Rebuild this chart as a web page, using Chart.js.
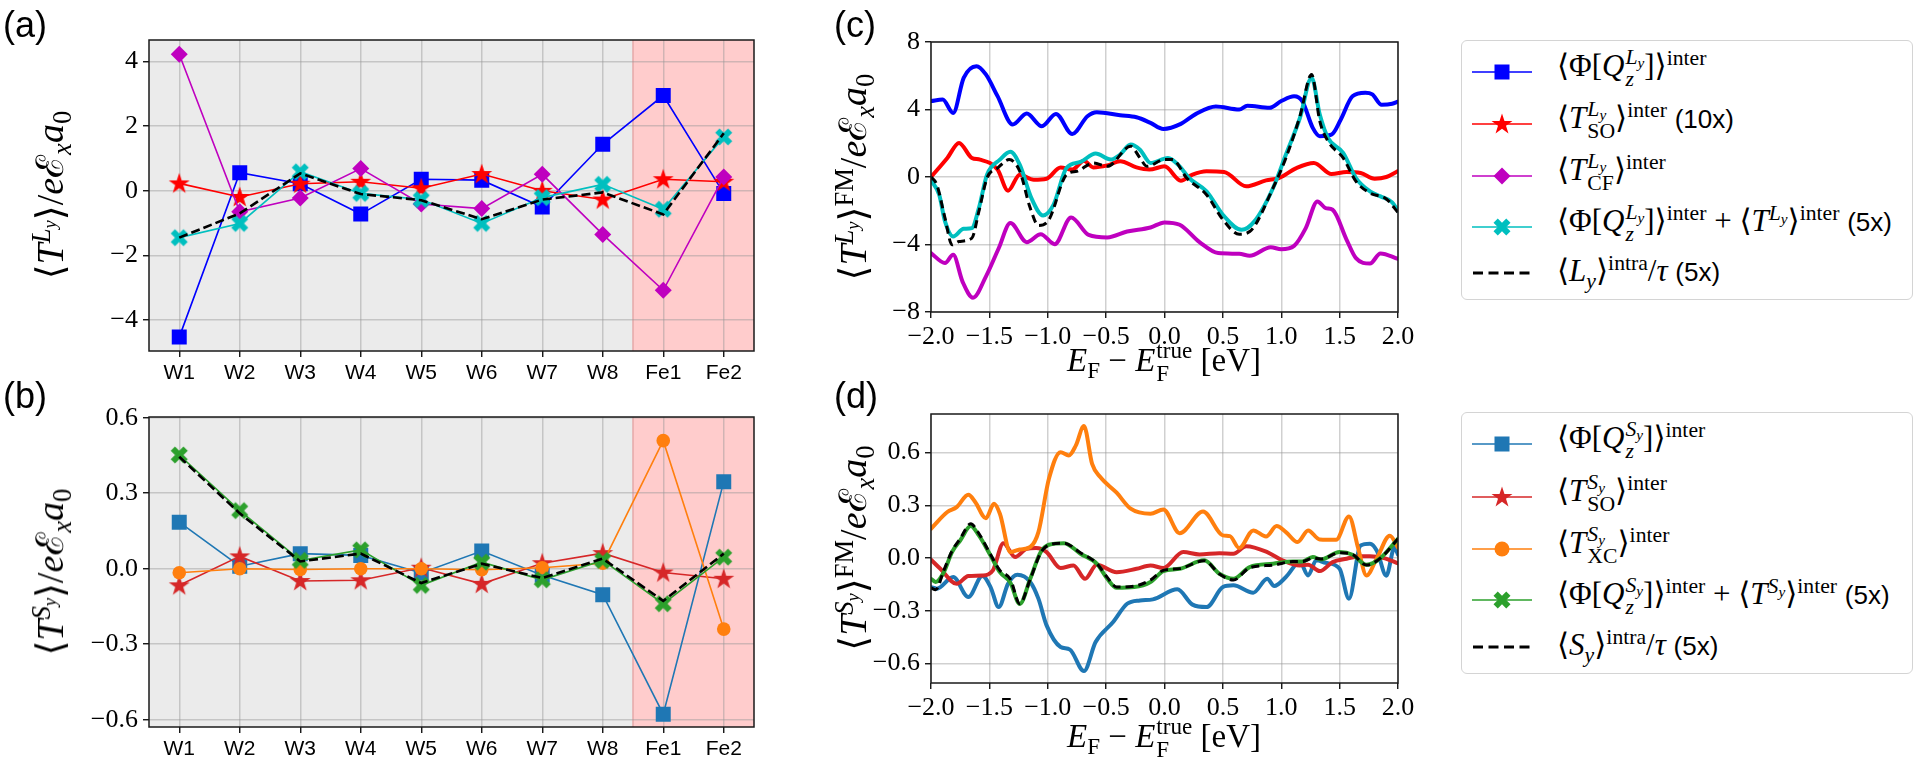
<!DOCTYPE html>
<html>
<head>
<meta charset="utf-8">
<title>Orbital and spin torques</title>
<script src="https://cdn.jsdelivr.net/npm/chart.js@4.4.1/dist/chart.umd.min.js"></script>
<style>
  html, body { margin: 0; padding: 0; background: #fff; }
  body { position: relative; width: 1920px; height: 765px; overflow: hidden; }
  canvas { position: absolute; }
  .txt { position: absolute; white-space: nowrap; color: #000; line-height: 1; }
  .panel { font-family: 'Liberation Sans', Arial, sans-serif; font-size: 36px; }
  .math { font-family: 'Liberation Serif', 'DejaVu Serif', serif; }
  .sans { font-family: 'Liberation Sans', Arial, sans-serif; font-size: 0.84em; }
  .rot { transform: translate(-50%, -50%) rotate(-90deg); }
  .ctr { transform: translate(-50%, -50%); }
  .sp { font-size: 0.7em; vertical-align: 0.5em; line-height: 0; }
  .sb { font-size: 0.7em; vertical-align: -0.3em; line-height: 0; }
  .st { display: inline-flex; flex-direction: column; font-size: 0.7em; line-height: 1; vertical-align: 0.55em; margin-left: 1px; }
  .legend { position: absolute; border: 1.5px solid #d4d4d4; border-radius: 6px; background: #fff; box-sizing: border-box; }
</style>
</head>
<body>
<canvas id="chA" width="780" height="390" style="left:0;top:0"></canvas>
<canvas id="chB" width="780" height="375" style="left:0;top:390px"></canvas>
<canvas id="chC" width="560" height="390" style="left:860px;top:0"></canvas>
<canvas id="chD" width="560" height="375" style="left:860px;top:390px"></canvas>
<div id="overlay"></div>

<script>
// ---------- data ----------
const sites = ['W1', 'W2', 'W3', 'W4', 'W5', 'W6', 'W7', 'W8', 'Fe1', 'Fe2'];

// (a) orbital channel, per site
const aPhiQ  = [-4.53, 0.56, 0.22, -0.72, 0.36, 0.33, -0.50, 1.44, 2.95, -0.08];
const aTso   = [0.23, -0.19, 0.22, 0.28, 0.08, 0.52, 0.00, -0.27, 0.36, 0.28];
const aTcf   = [4.23, -0.65, -0.22, 0.69, -0.41, -0.55, 0.51, -1.35, -3.08, 0.43];
const aSum   = [-1.45, -1.01, 0.59, -0.08, -0.27, -1.01, -0.21, 0.20, -0.57, 1.67];
const aIntra = [-1.45, -0.70, 0.54, -0.10, -0.29, -0.88, -0.27, -0.05, -0.73, 1.78];

// (b) spin channel, per site
const bPhiQ  = [0.185, 0.010, 0.060, 0.053, -0.017, 0.070, -0.026, -0.103, -0.578, 0.346];
const bTso   = [-0.066, 0.049, -0.049, -0.046, 0.004, -0.060, 0.022, 0.062, -0.015, -0.040];
const bTxc   = [-0.016, 0.000, -0.003, 0.000, 0.000, -0.004, 0.004, 0.022, 0.509, -0.240];
const bSum   = [0.452, 0.231, 0.033, 0.075, -0.066, 0.026, -0.044, 0.033, -0.139, 0.046];
const bIntra = [0.445, 0.220, 0.029, 0.060, -0.057, 0.020, -0.037, 0.040, -0.128, 0.060];

// (c) orbital channel vs Fermi energy (eV)
const cPhiQE = [-2, -1.9, -1.81, -1.72, -1.61, -1.53, -1.43, -1.3, -1.18, -1.05, -0.93, -0.79, -0.66, -0.58, -0.38, -0.24, -0.12, -0.01, 0.14, 0.27, 0.44, 0.64, 0.71, 0.9, 1.0, 1.11, 1.18, 1.27, 1.33, 1.43, 1.51, 1.61, 1.72, 1.78, 1.86, 1.95, 2.0];
const cPhiQV = [4.5, 4.59, 3.8, 5.88, 6.57, 6.08, 4.79, 3.11, 3.76, 3.01, 3.74, 2.55, 3.6, 3.84, 3.66, 3.54, 3.21, 2.85, 3.15, 3.74, 4.18, 4.0, 4.22, 4.1, 4.5, 4.79, 4.5, 2.91, 2.42, 2.51, 3.41, 4.79, 5.0, 4.9, 4.28, 4.34, 4.47];
const cTsoE = [-2, -1.86, -1.76, -1.65, -1.58, -1.43, -1.34, -1.24, -1.12, -1.01, -0.89, -0.79, -0.69, -0.61, -0.49, -0.38, -0.24, -0.13, 0, 0.14, 0.24, 0.36, 0.51, 0.7, 0.87, 0.98, 1.13, 1.28, 1.43, 1.56, 1.68, 1.8, 1.9, 2.0];
const cTsoV = [0, 1.13, 2.02, 1.13, 1.03, 0.44, -0.81, 0.14, -0.16, -0.1, 0.57, 0.44, 0.97, 0.57, 0.69, 0.93, 0.57, 0.44, 0.63, -0.22, 0.14, 0.34, 0.3, -0.55, -0.2, -0.06, 0.53, 0.83, 0.18, 0.3, 0.24, -0.1, 0.0, 0.35];
const cTcfE = [-2, -1.88, -1.81, -1.73, -1.64, -1.53, -1.42, -1.32, -1.18, -1.06, -0.94, -0.8, -0.65, -0.49, -0.32, -0.12, 0, 0.13, 0.3, 0.46, 0.64, 0.73, 0.91, 1.0, 1.11, 1.21, 1.31, 1.38, 1.44, 1.56, 1.64, 1.76, 1.85, 2.0];
const cTcfV = [-4.51, -5.1, -4.61, -6.2, -7.15, -5.9, -4.22, -2.73, -3.86, -3.39, -3.98, -2.4, -3.43, -3.58, -3.23, -2.99, -2.69, -2.83, -3.86, -4.51, -4.55, -4.67, -4.16, -4.28, -4.08, -3.03, -1.45, -1.84, -1.94, -3.72, -4.81, -5.13, -4.53, -4.85];
const cSumE = [-2, -1.93, -1.88, -1.81, -1.72, -1.65, -1.59, -1.52, -1.41, -1.32, -1.24, -1.14, -1.04, -0.95, -0.84, -0.72, -0.59, -0.46, -0.38, -0.29, -0.21, -0.12, 0.03, 0.13, 0.21, 0.36, 0.5, 0.66, 0.77, 0.93, 1.04, 1.16, 1.26, 1.33, 1.4, 1.53, 1.64, 1.76, 1.85, 1.95, 2.0];
const cSumV = [-0.2, -1.05, -2.63, -3.52, -3.07, -3.03, -1.84, 0.14, 1.03, 1.49, 0.73, -1.25, -2.28, -1.64, 0.53, 0.89, 1.39, 1.03, 1.33, 1.92, 1.62, 0.83, 1.13, 0.63, -0.06, -0.85, -2.24, -3.13, -2.63, -0.65, 1.33, 3.5, 5.88, 3.7, 2.32, 1.43, -0.06, -0.85, -1.15, -1.5, -2.0];
const cIntraE = [-2, -1.95, -1.88, -1.82, -1.76, -1.65, -1.59, -1.52, -1.43, -1.33, -1.24, -1.15, -1.08, -0.99, -0.84, -0.75, -0.61, -0.49, -0.29, -0.21, -0.15, 0, 0.07, 0.19, 0.36, 0.5, 0.64, 0.73, 0.93, 1.04, 1.16, 1.26, 1.33, 1.4, 1.53, 1.64, 1.76, 1.9, 2.0];
const cIntraV = [0, -0.46, -2.44, -4.02, -3.82, -3.62, -2.04, -0.06, 0.53, 1.03, 0.34, -1.84, -2.87, -2.53, 0.14, 0.34, 0.83, 0.63, 1.82, 1.13, 0.63, 1.03, 1.03, -0.06, -1.05, -2.53, -3.39, -3.23, -0.65, 1.13, 3.6, 6.08, 3.31, 2.12, 1.13, -0.26, -0.95, -1.3, -2.1];

// (d) spin channel vs Fermi energy (eV)
const dPhiQE = [-2, -1.95, -1.81, -1.68, -1.56, -1.49, -1.42, -1.34, -1.26, -1.15, -1.08, -1.01, -0.89, -0.81, -0.69, -0.59, -0.44, -0.32, -0.21, -0.1, 0.11, 0.24, 0.36, 0.5, 0.59, 0.76, 0.88, 0.94, 1.04, 1.16, 1.23, 1.3, 1.38, 1.5, 1.58, 1.68, 1.76, 1.82, 1.9, 1.97, 2.0];
const dPhiQV = [-0.165, -0.174, -0.108, -0.222, -0.102, -0.165, -0.279, -0.146, -0.095, -0.136, -0.231, -0.383, -0.506, -0.521, -0.643, -0.478, -0.364, -0.26, -0.241, -0.235, -0.178, -0.265, -0.279, -0.165, -0.155, -0.197, -0.118, -0.159, -0.108, -0.023, -0.099, -0.013, -0.027, -0.061, -0.231, 0.072, 0.082, 0.04, -0.1, 0.06, 0.02];
const dTsoE = [-2, -1.92, -1.78, -1.68, -1.56, -1.47, -1.38, -1.28, -1.18, -1.1, -1.01, -0.89, -0.78, -0.68, -0.58, -0.41, -0.24, -0.12, -0.01, 0.16, 0.3, 0.47, 0.59, 0.7, 0.88, 1.01, 1.16, 1.23, 1.33, 1.44, 1.56, 1.67, 1.76, 1.88, 2.0];
const dTsoV = [-0.009, -0.061, -0.146, -0.102, -0.099, -0.07, 0.085, 0.006, 0.053, 0.057, 0.034, -0.057, -0.042, -0.118, -0.038, -0.08, -0.061, -0.042, -0.057, 0.034, 0.021, 0.028, 0.025, 0.068, 0.034, -0.013, -0.042, -0.038, -0.074, -0.023, -0.004, 0.011, 0.011, 0.0, -0.03];
const dTxcE = [-2, -1.86, -1.78, -1.68, -1.62, -1.53, -1.46, -1.41, -1.32, -1.24, -1.15, -1.08, -0.99, -0.89, -0.82, -0.76, -0.69, -0.62, -0.55, -0.41, -0.29, -0.12, -0.01, 0.13, 0.33, 0.5, 0.56, 0.64, 0.76, 0.87, 0.96, 1.04, 1.14, 1.23, 1.33, 1.47, 1.58, 1.66, 1.73, 1.82, 1.93, 2.0];
const dTxcV = [0.167, 0.262, 0.29, 0.36, 0.318, 0.227, 0.309, 0.252, 0.034, 0.049, 0.063, 0.148, 0.451, 0.603, 0.584, 0.64, 0.751, 0.536, 0.461, 0.372, 0.281, 0.252, 0.277, 0.142, 0.265, 0.129, 0.125, 0.057, 0.157, 0.123, 0.182, 0.148, 0.091, 0.157, 0.106, 0.104, 0.237, 0.053, -0.099, 0.0, 0.127, 0.06];
const dSumE = [-2, -1.96, -1.89, -1.82, -1.75, -1.66, -1.59, -1.49, -1.41, -1.32, -1.24, -1.15, -1.06, -0.99, -0.86, -0.72, -0.58, -0.49, -0.41, -0.26, -0.12, -0.01, 0.13, 0.34, 0.47, 0.59, 0.73, 0.93, 1.1, 1.18, 1.27, 1.34, 1.5, 1.61, 1.73, 1.85, 2.0];
const dSumV = [-0.118, -0.136, -0.08, 0.034, 0.1, 0.182, 0.129, 0.015, -0.08, -0.14, -0.262, -0.118, 0.034, 0.076, 0.085, 0.025, -0.032, -0.118, -0.169, -0.165, -0.136, -0.074, -0.061, -0.013, -0.089, -0.118, -0.051, -0.032, -0.019, -0.019, 0.006, -0.008, 0.034, 0.019, -0.038, 0.0, 0.11];
const dIntraE = dSumE;
const dIntraV = [-0.17, -0.18, -0.07, 0.04, 0.11, 0.195, 0.14, 0.02, -0.07, -0.12, -0.26, -0.12, 0.03, 0.075, 0.085, 0.03, -0.03, -0.11, -0.165, -0.16, -0.125, -0.07, -0.06, -0.015, -0.09, -0.125, -0.055, -0.04, -0.02, -0.02, 0.0, -0.005, 0.03, 0.02, -0.04, 0.0, 0.11];

// tick labels
const aTicks = [-4, -2, 0, 2, 4];
const bTicks = [-0.6, -0.3, 0, 0.3, 0.6];
const cTicks = [-8, -4, 0, 4, 8];
const dTicks = [-0.6, -0.3, 0, 0.3, 0.6];
const eTicks = [-2, -1.5, -1, -0.5, 0, 0.5, 1, 1.5, 2];

// ---------- markers ----------
const XPATH = [[-0.25, -0.5], [0, -0.25], [0.25, -0.5], [0.5, -0.25], [0.25, 0], [0.5, 0.25],
               [0.25, 0.5], [0, 0.25], [-0.25, 0.5], [-0.5, 0.25], [-0.25, 0], [-0.5, -0.25]];

function starPts(r, cx, cy) {
  const pts = [];
  for (let k = 0; k < 10; k++) {
    const rad = k % 2 ? r * 0.382 : r;
    const ang = -Math.PI / 2 + k * Math.PI / 5;
    pts.push([cx + rad * Math.cos(ang), cy + rad * Math.sin(ang)]);
  }
  return pts;
}
function xPts(s, cx, cy) { return XPATH.map(([x, y]) => [cx + x * s, cy + y * s]); }

function polyImg(pts, size, color) {
  const c = document.createElement('canvas');
  c.width = c.height = size;
  const g = c.getContext('2d');
  g.beginPath();
  pts.forEach(([x, y], i) => i ? g.lineTo(x, y) : g.moveTo(x, y));
  g.closePath();
  g.fillStyle = color;
  g.fill();
  return c;
}
const starImg = (color) => polyImg(starPts(11, 12, 12.5), 24, color);
const crossImg = (color) => polyImg(xPts(17, 10, 10), 20, color);

// ---------- plugin: shaded background + frame ----------
const panelFrame = {
  id: 'panelFrame',
  beforeDraw(chart, args, opts) {
    if (!opts.shade) return;
    const { ctx, chartArea: a, scales } = chart;
    const xs = scales.x;
    const split = (xs.getPixelForValue(opts.split - 1) + xs.getPixelForValue(opts.split)) / 2;
    ctx.save();
    ctx.fillStyle = '#ebebeb';
    ctx.fillRect(a.left, a.top, split - a.left, a.bottom - a.top);
    ctx.fillStyle = '#ffcccc';
    ctx.fillRect(split, a.top, a.right - split, a.bottom - a.top);
    ctx.strokeStyle = '#e6a9a9';
    ctx.lineWidth = 1.5;
    ctx.beginPath(); ctx.moveTo(split, a.top); ctx.lineTo(split, a.bottom); ctx.stroke();
    ctx.restore();
  },
  afterDraw(chart) {
    const { ctx, chartArea: a } = chart;
    ctx.save();
    ctx.strokeStyle = '#1a1a1a';
    ctx.lineWidth = 1.5;
    ctx.strokeRect(a.left, a.top, a.right - a.left, a.bottom - a.top);
    ctx.restore();
  }
};

const GRID = 'rgba(150,150,150,0.45)';
const fmt = (v, d) => (v < 0 ? '\u2212' : '') + Math.abs(v).toFixed(d);

function yAxis(ticks, min, max, dec, width) {
  return {
    type: 'linear', min, max,
    afterBuildTicks: (s) => { s.ticks = ticks.map(v => ({ value: v })); },
    afterFit: (s) => { s.width = width; },
    grid: { color: GRID, lineWidth: 1.5, tickLength: 6, tickColor: '#000', tickWidth: 1.3 },
    border: { display: false },
    ticks: { color: '#000', padding: 5, font: { family: 'Liberation Serif', size: 26 }, callback: (v) => fmt(v, dec) }
  };
}

function siteChart(id, padTop, xH, yT, yMin, yMax, dec, sets) {
  return new Chart(document.getElementById(id), {
    type: 'line',
    data: {
      labels: sites,
      datasets: sets.map((s, i) => ({
        label: s.name, data: s.data,
        borderColor: s.color, backgroundColor: s.color,
        borderWidth: s.dash ? 2.6 : 1.6, borderDash: s.dash || [],
        pointStyle: s.marker || false, pointRadius: s.marker ? s.r : 0,
        pointBorderWidth: 0, tension: 0, order: sets.length - i
      }))
    },
    options: {
      responsive: false, animation: false, devicePixelRatio: 1, events: [],
      layout: { padding: { top: padTop, right: 26, left: 0, bottom: 0 } },
      plugins: { legend: { display: false }, tooltip: { enabled: false },
                 panelFrame: { shade: true, split: sites.findIndex(s => s.startsWith('Fe')) } },
      scales: {
        x: {
          type: 'category', offset: true,
          afterFit: (s) => { s.height = xH; },
          grid: { color: GRID, lineWidth: 1.5, tickLength: 6, tickColor: '#000', tickWidth: 1.3 },
          border: { display: false },
          ticks: { color: '#000', padding: 4, autoSkip: false, maxRotation: 0,
                   font: { family: 'Liberation Sans', size: 21 } }
        },
        y: yAxis(yT, yMin, yMax, dec, 149)
      }
    },
    plugins: [panelFrame]
  });
}

function energyChart(id, padTop, xH, yT, yMin, yMax, dec, sets) {
  return new Chart(document.getElementById(id), {
    type: 'line',
    data: {
      datasets: sets.map((s, i) => ({
        label: s.name, data: s.e.map((x, k) => ({ x, y: s.v[k] })),
        borderColor: s.color, borderWidth: s.dash ? 3 : 4, borderDash: s.dash || [],
        borderCapStyle: s.dash ? 'butt' : 'round', borderJoinStyle: 'round',
        pointRadius: 0, cubicInterpolationMode: 'monotone', order: sets.length - i
      }))
    },
    options: {
      responsive: false, animation: false, devicePixelRatio: 1, events: [],
      layout: { padding: { top: padTop, right: 22, left: 0, bottom: 0 } },
      plugins: { legend: { display: false }, tooltip: { enabled: false }, panelFrame: { shade: false } },
      scales: {
        x: {
          type: 'linear', min: -2, max: 2,
          afterBuildTicks: (s) => { s.ticks = eTicks.map(v => ({ value: v })); },
          afterFit: (s) => { s.height = xH; },
          grid: { color: GRID, lineWidth: 1.5, tickLength: 6, tickColor: '#000', tickWidth: 1.3 },
          border: { display: false },
          ticks: { color: '#000', padding: 4, maxRotation: 0,
                   font: { family: 'Liberation Serif', size: 26 }, callback: (v) => fmt(v, 1) }
        },
        y: yAxis(yT, yMin, yMax, dec, 71)
      }
    },
    plugins: [panelFrame]
  });
}

// ---------- charts ----------
siteChart('chA', 40, 39, aTicks, -4.96, 4.67, 0, [
  { name: 'PhiQ', data: aPhiQ, color: '#0000ff', marker: 'rect', r: 10.6 },
  { name: 'Tso', data: aTso, color: '#ff0000', marker: starImg('#ff0000'), r: 8 },
  { name: 'Tcf', data: aTcf, color: '#bf00bf', marker: 'rectRot', r: 8.5 },
  { name: 'Sum', data: aSum, color: '#00bfbf', marker: crossImg('#00bfbf'), r: 8 },
  { name: 'Intra', data: aIntra, color: '#000000', dash: [9, 4] }
]);

siteChart('chB', 27, 38, bTicks, -0.629, 0.603, 1, [
  { name: 'PhiQ', data: bPhiQ, color: '#1f77b4', marker: 'rect', r: 10.6 },
  { name: 'Tso', data: bTso, color: '#d62728', marker: starImg('#d62728'), r: 8 },
  { name: 'Txc', data: bTxc, color: '#ff7f0e', marker: 'circle', r: 6.8 },
  { name: 'Sum', data: bSum, color: '#2ca02c', marker: crossImg('#2ca02c'), r: 8 },
  { name: 'Intra', data: bIntra, color: '#000000', dash: [9, 4] }
]);

energyChart('chC', 42, 78, cTicks, -8, 8, 0, [
  { name: 'PhiQ', e: cPhiQE, v: cPhiQV, color: '#0000ff' },
  { name: 'Tso', e: cTsoE, v: cTsoV, color: '#ff0000' },
  { name: 'Tcf', e: cTcfE, v: cTcfV, color: '#bf00bf' },
  { name: 'Sum', e: cSumE, v: cSumV, color: '#00bfbf' },
  { name: 'Intra', e: cIntraE, v: cIntraV, color: '#000000', dash: [8, 5] }
]);

energyChart('chD', 24, 82, dTicks, -0.711, 0.82, 1, [
  { name: 'PhiQ', e: dPhiQE, v: dPhiQV, color: '#1f77b4' },
  { name: 'Tso', e: dTsoE, v: dTsoV, color: '#d62728' },
  { name: 'Txc', e: dTxcE, v: dTxcV, color: '#ff7f0e' },
  { name: 'Sum', e: dSumE, v: dSumV, color: '#2ca02c' },
  { name: 'Intra', e: dIntraE, v: dIntraV, color: '#000000', dash: [8, 5] }
]);

// ---------- text overlays (math labels, legends) ----------
const I = (s) => `<i>${s}</i>`;
const sup = (s) => `<span class="sp">${s}</span>`;
const sub = (s) => `<span class="sb">${s}</span>`;
const st = (u, d) => `<span class="st"><span>${u}</span><span>${d}</span></span>`;
const Ly = I('L') + sub(I('y'));
const Sy = I('S') + sub(I('y'));
const tail = `/${I('e')}\u2130${sub(I('x'))}${I('a')}${sub('0')}`;
const xTitle = `${I('E')}${sub('F')} \u2212 ${I('E')}${st('true', 'F')} [eV]`;
const sans = (s) => `<span class="sans">${s}</span>`;

const overlay = document.getElementById('overlay');
function put(html, css, cls) {
  const d = document.createElement('div');
  d.className = 'txt ' + cls;
  d.style.cssText = css;
  d.innerHTML = html;
  overlay.appendChild(d);
  return d;
}

put('(a)', 'left:3px;top:7px', 'panel');
put('(b)', 'left:3px;top:378px', 'panel');
put('(c)', 'left:834px;top:7px', 'panel');
put('(d)', 'left:834px;top:378px', 'panel');

put(`\u27E8${I('T')}${sup(Ly)}\u27E9${tail}`, 'left:50px;top:195px;font-size:38px', 'math rot');
put(`\u27E8${I('T')}${sup(Sy)}\u27E9${tail}`, 'left:50px;top:572px;font-size:38px', 'math rot');
put(`\u27E8${I('T')}${sup(Ly)}\u27E9${sup('FM')}${tail}`, 'left:853px;top:177px;font-size:38px', 'math rot');
put(`\u27E8${I('T')}${sup(Sy)}\u27E9${sup('FM')}${tail}`, 'left:853px;top:548px;font-size:38px', 'math rot');
put(xTitle, 'left:1164px;top:362px;font-size:33px', 'math ctr');
put(xTitle, 'left:1164px;top:738px;font-size:33px', 'math ctr');

function markerSvg(kind, color) {
  const line = kind === 'dash'
    ? `<line x1="1" y1="12" x2="59" y2="12" stroke="${color}" stroke-width="3" stroke-dasharray="10,5.5"/>`
    : `<line x1="0" y1="12" x2="60" y2="12" stroke="${color}" stroke-width="1.6"/>`;
  const poly = (pts) => `<polygon fill="${color}" points="${pts.map(p => p.join(',')).join(' ')}"/>`;
  let m = '';
  if (kind === 'rect') m = `<rect x="22.5" y="4.5" width="15" height="15" fill="${color}"/>`;
  if (kind === 'star') m = poly(starPts(11, 30, 12.5));
  if (kind === 'diamond') m = poly([[30, 3.5], [38.5, 12], [30, 20.5], [21.5, 12]]);
  if (kind === 'cross') m = poly(xPts(17, 30, 12));
  if (kind === 'circle') m = `<circle cx="30" cy="12" r="7.5" fill="${color}"/>`;
  return `<svg width="60" height="24" style="position:absolute;left:1472px;" xmlns="http://www.w3.org/2000/svg">${line}${m}</svg>`;
}

function legend(top, height, rows, entries) {
  const box = document.createElement('div');
  box.className = 'legend';
  box.style.cssText = `left:1461px;top:${top}px;width:452px;height:${height}px`;
  overlay.appendChild(box);
  entries.forEach((e, i) => {
    const y = rows[i];
    const w = document.createElement('div');
    w.innerHTML = markerSvg(e.kind, e.color);
    w.firstChild.style.top = (y - 12) + 'px';
    overlay.appendChild(w.firstChild);
    put(e.html, `left:1557px;top:${y}px;font-size:31px;transform:translateY(-58%)`, 'math');
  });
}

legend(40, 260, [72, 124, 176, 227, 273], [
  { kind: 'rect', color: '#0000ff', html: `\u27E8\u03A6[${I('Q')}${st(Ly, I('z'))}]\u27E9${sup('inter')}` },
  { kind: 'star', color: '#ff0000', html: `\u27E8${I('T')}${st(Ly, 'SO')}\u27E9${sup('inter')} ${sans('(10x)')}` },
  { kind: 'diamond', color: '#bf00bf', html: `\u27E8${I('T')}${st(Ly, 'CF')}\u27E9${sup('inter')}` },
  { kind: 'cross', color: '#00bfbf', html: `\u27E8\u03A6[${I('Q')}${st(Ly, I('z'))}]\u27E9${sup('inter')} + \u27E8${I('T')}${sup(Ly)}\u27E9${sup('inter')} ${sans('(5x)')}` },
  { kind: 'dash', color: '#000000', html: `\u27E8${Ly}\u27E9${sup('intra')}/${I('\u03C4')} ${sans('(5x)')}` }
]);

legend(412, 262, [444, 497, 549, 600, 647], [
  { kind: 'rect', color: '#1f77b4', html: `\u27E8\u03A6[${I('Q')}${st(Sy, I('z'))}]\u27E9${sup('inter')}` },
  { kind: 'star', color: '#d62728', html: `\u27E8${I('T')}${st(Sy, 'SO')}\u27E9${sup('inter')}` },
  { kind: 'circle', color: '#ff7f0e', html: `\u27E8${I('T')}${st(Sy, 'XC')}\u27E9${sup('inter')}` },
  { kind: 'cross', color: '#2ca02c', html: `\u27E8\u03A6[${I('Q')}${st(Sy, I('z'))}]\u27E9${sup('inter')} + \u27E8${I('T')}${sup(Sy)}\u27E9${sup('inter')} ${sans('(5x)')}` },
  { kind: 'dash', color: '#000000', html: `\u27E8${Sy}\u27E9${sup('intra')}/${I('\u03C4')} ${sans('(5x)')}` }
]);
</script>
</body>
</html>
